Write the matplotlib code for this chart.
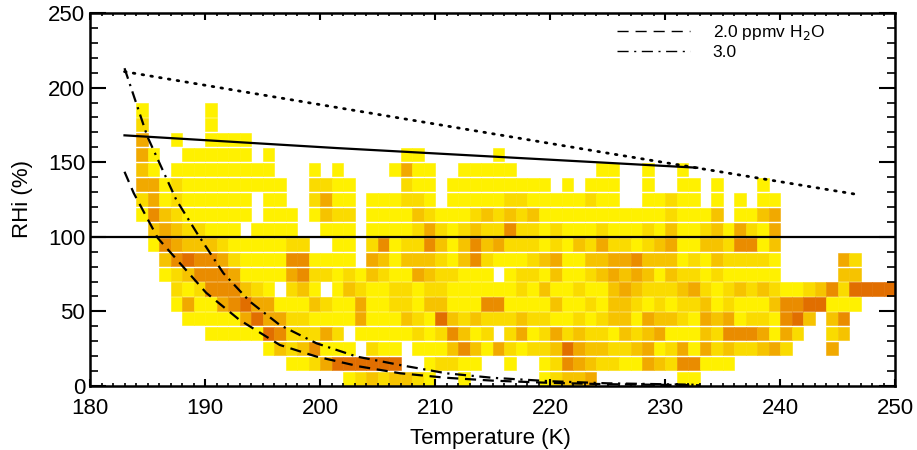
import matplotlib
matplotlib.use("Agg")
import matplotlib.pyplot as plt
from matplotlib.lines import Line2D
from matplotlib.ticker import MultipleLocator

plt.rcParams['font.family'] = ['Liberation Sans', 'DejaVu Sans']

# Histogram bins: 1 K wide starting at 184 K, 10 %RHi tall starting at 0 %
T_FIRST = 184
RHI_BIN = 10

# One string per RHi bin (row 0 = 0-10 %), one character per 1 K bin.
# '.' = empty, Y/a/b/c/d/e = increasing frequency (yellow -> dark orange)
HIST_ROWS = [
    ".......... ........Ya babbaY..Y. .....Yabbc .......YY. .......... ......",
    ".......... ...YYaceee eee..YaaYY ..Y..Yadcb aaYYcbaddY YY........ ......",
    ".......... .YbabdYYY. aYY.YYYbdb YcaYaabecb baabcYacYc abaabca... c.....",
    "......YYYY Yedaaaca.Y YYYYaYadbY a.acYacaba aYbabcYYYb adddcYca.. ab....",
    "....YYYYYc eccaaYYYYc YYYbaYebab aaabaaYYaY abbYcbbaYc bcYaaYdeb. bd....",
    "...YcYYcde ccYYYbaYYc YYaaYbbYYY ddYYYYbYYa YbbaYaYaab YaYYYbddee YYY...",
    "...aYadddb aY.abY.Yba YYaaYaaYYY YYYaYbYYaY Ybcbaaabca YababaYYab daeeee",
    "..YabdddcY YYYcdaaYaY baYYcbaaYY Y.YaaYbYYa bcbcbYbaaY aYYYYY.... .bb...",
    "..bdeddcaY YYYddYYYY. cbYbbbaYbd aYYYabcYYb bccdbbbYaY baaaaY.... .ca...",
    ".YdcbbbaYY YYYaa..YY. adYaadbYbd bcaaaYaYba caaYabcYYb baddYb.... ......",
    ".bcbaaYYY. YYYY..YYY. YYYYacaYab aadaaYaYYY aYYYaYbYYa bYcaYc.... ......",
    "YdbaYYYYYY .YYY.Ybaa. YYYYbaYYYa bababYYYYY YYYYYYaYYY b.YYbc.... ......",
    "acYaYYYYYY .YY..acYY. YYYaaY.YYY YYaaYYYYYa YY..YYaYY. Y.Y.YY.... ......",
    "ccYaYYYYYY YYY..aaYY. ...aYY.YYY YYYYYY.Y.Y YY..Y..YY. Y...Y..... ......",
    "bY.YYYYYYY YY...Y.Y.. ..YcYY..YY YYY....... YY..Y..Y.. .......... ......",
    "cY..YYYYYY .Y........ ...YY..... .Y........ .......... .......... ......",
    "c..Y..YYYY .......... .......... .......... .......... .......... ......",
    "a.....Y... .......... .......... .......... .......... .......... ......",
    "Y.....Y... .......... .......... .......... .......... .......... ......",
]

LEVEL_COLORS = {
    'Y': '#FFF100',
    'a': '#FADB00',
    'b': '#F6C300',
    'c': '#F1A900',
    'd': '#EA8C00',
    'e': '#E16E00',
}

# solid sloping line (upper threshold)
THRESH_T = [183.0, 201.4, 232.8]
THRESH_RHI = [168.0, 159.5, 146.3]

# dotted line
DOT_T = [183.0, 224.3, 247.0]
DOT_RHI = [210.7, 157.0, 128.0]

# 2.0 ppmv H2O (dashed)
PPM2_T = [183.0, 183.8, 185.9, 187.8, 190.1, 193.0, 196.5, 199.7, 203.5, 207.0,
          211.0, 215.0, 220.0, 225.0, 233.0]
PPM2_RHI = [143.6, 129.3, 99.1, 82.5, 62.5, 44.3, 27.5, 19.7, 13.0, 8.5,
            5.5, 3.6, 2.1, 1.2, 0.5]

# 3.0 ppmv H2O (dash-dot)
PPM3_T = [183.0, 185.0, 187.5, 189.3, 191.6, 193.9, 196.5, 199.7, 203.2, 207.0,
          211.0, 215.0, 220.0, 225.0, 233.0]
PPM3_RHI = [213.0, 167.0, 124.8, 102.5, 75.6, 56.6, 40.9, 28.6, 19.7, 14.0,
            8.5, 5.5, 3.2, 1.8, 0.8]


def main():
    fig = plt.figure(figsize=(9.17, 4.5), dpi=100)
    ax = fig.add_axes([90 / 917, 64 / 450, 805 / 917, 373 / 450])

    # collect the histogram cells
    xs, bottoms, colors = [], [], []
    for j, row in enumerate(HIST_ROWS):
        cells = row.replace(' ', '')
        for i, ch in enumerate(cells):
            if ch == '.':
                continue
            xs.append(T_FIRST + i)
            bottoms.append(j * RHI_BIN + 0.6)
            colors.append(LEVEL_COLORS[ch])

    ax.bar(xs, RHI_BIN - 1.2, width=1.0, bottom=bottoms, align='edge',
           color=colors, edgecolor=colors, linewidth=0.4, zorder=1)

    ax.axhline(100, color='black', linewidth=1.6, zorder=3)
    ax.plot(THRESH_T, THRESH_RHI, color='black', linewidth=1.6, zorder=3)
    ax.plot(DOT_T, DOT_RHI, color='black', linewidth=2.0,
            linestyle=(0, (0.6, 2.6)), dash_capstyle='round', zorder=3)
    ax.plot(PPM2_T, PPM2_RHI, color='black', linewidth=1.6,
            linestyle=(0, (5, 3)), zorder=3)
    ax.plot(PPM3_T, PPM3_RHI, color='black', linewidth=1.6,
            linestyle=(0, (5, 2.5, 1, 2.5)), zorder=3)

    ax.set_xlim(180, 250)
    ax.set_ylim(0, 250)
    ax.xaxis.set_major_locator(MultipleLocator(10))
    ax.xaxis.set_minor_locator(MultipleLocator(1))
    ax.yaxis.set_major_locator(MultipleLocator(50))
    ax.yaxis.set_minor_locator(MultipleLocator(10))

    ax.tick_params(axis='x', which='major', direction='in', length=5, width=1.5,
                   top=True, labelsize=16, pad=9)
    ax.tick_params(axis='x', which='minor', direction='in', length=2.5, width=1.2,
                   top=True)
    ax.tick_params(axis='y', which='major', direction='in', length=11.5, width=1.5,
                   right=True, labelsize=16, pad=3.6)
    ax.tick_params(axis='y', which='minor', direction='in', length=5.8, width=1.2,
                   right=True)
    for sp in ax.spines.values():
        sp.set_linewidth(1.8)

    ax.set_xlabel('Temperature (K)', fontsize=16)
    ax.xaxis.set_label_coords(0.497, -0.113)
    ax.set_ylabel('RHi (%)', fontsize=16)
    ax.yaxis.set_label_coords(-0.071, 0.5)

    handles = [
        Line2D([], [], color='black', linewidth=1.0, linestyle=(0, (8, 5))),
        Line2D([], [], color='black', linewidth=1.0, linestyle=(0, (8, 4, 1.5, 4))),
    ]
    ax.legend(handles, ['2.0 ppmv H$_2$O', '3.0'], loc='upper left',
              bbox_to_anchor=(0.655, 0.973), frameon=False, fontsize=12.5,
              handlelength=4.2, handletextpad=1.3, labelspacing=0.15,
              borderpad=0, borderaxespad=0)

    fig.savefig('out.png', dpi=100)
    plt.close(fig)


if __name__ == '__main__':
    main()
